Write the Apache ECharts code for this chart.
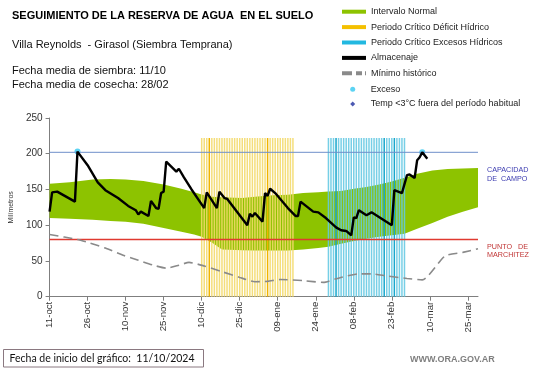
<!DOCTYPE html>
<html><head><meta charset="utf-8">
<script src="https://cdn.jsdelivr.net/npm/echarts@6/dist/echarts.min.js"></script>
<style>html,body{margin:0;padding:0;background:#fff}#c{width:541px;height:368px}</style>
</head><body><div id="c"></div>
<script>
// ---- data (x = days since 11-oct-2024) ----
const xTickLabels = ['11-oct','26-oct','10-nov','25-nov','10-dic','25-dic','09-ene','24-ene','08-feb','23-feb','10-mar','25-mar'];
const tickStep = 15;
const lastDay = 169;
const yTicks = [0, 50, 100, 150, 200, 250];

const bandDays = [0, 8, 17, 24, 30, 37, 45, 52, 57, 60, 64, 68, 76, 81, 88, 94, 100, 106, 110, 115, 120, 125, 130, 135, 140, 145, 151, 157, 163, 169];
const bandLow  = [110, 109, 107.5, 106, 105, 102, 96, 91, 87, 84, 76, 66, 65, 64.5, 64.5, 64.5, 66, 68, 70, 74, 78, 81, 84, 86, 88, 95, 103, 112, 119, 125];
const bandHigh = [158, 160, 164, 164.5, 164, 162, 157, 151, 146, 143, 140, 139, 138, 140, 142, 142.5, 145, 146, 147, 148, 151, 153.5, 157, 161, 166.5, 172, 176.5, 178.5, 179.5, 180];

const minDays = [0, 11, 16, 22, 29, 35, 41, 46, 51, 55, 61, 68, 75, 81, 86, 91, 100, 108, 113, 122, 127, 133, 141, 147, 156, 163, 169];
const minVals = [87, 80, 75, 68, 58, 51, 44, 40, 44, 48, 43, 35, 27, 21, 21.5, 24, 22.5, 20, 25, 32, 32, 29, 25.5, 23.5, 57, 62, 67];

const almDays = [0,1,3,10,11,15,19,22,27,31,34,35,36,39,40,42,43,44,45,46,48,50,51,53,56,61,62,66,67,69,70,78,79,80,81,84,85,86,87,89,94,97,98,99,104,106,109,113,115,117,119,120,121,122,125,127,135,136,139,141,142,144,145,146,147,149];
const almVals = [119,146,147,133,203,184,160,149,138,127,121,115,119,113,134,124,123,145,147,189,182,175,179,167,150,124,146,124,147,138,137,100,116,112,117,105,145,141,151,145,124,113,113,133,119,118,110,97,93,92,86,111,110,121,114,118,100,149,145,170,171,166,191,195,202,193];

const excesoDays = [11, 147];
const excesoVals = [203, 202];

const deficitDays = [60,61,62,63,64,65,66,67,68,69,70,71,72,73,74,75,76,77,78,79,80,81,82,83,84,85,86,87,88,89,90,91,92,93,94,95,96];
const deficitStrong = [63, 86];
const excesosDays = [110,111,112,113,114,115,116,117,118,119,120,121,122,123,124,125,126,127,128,129,130,131,132,133,134,135,136,137,138,139,140];
const excesosStrong = [113, 132, 136];
const stripeTop = 222;

const capacidadCampo = 202;
const puntoMarchitez = 80;

// ---- chart ----
const FONT = '"Liberation Sans", Arial, sans-serif';
const GREEN = '#8dc300';
const tickValues = xTickLabels.map((_, i) => i * tickStep);
const chart = echarts.init(document.getElementById('c'), null, {renderer: 'canvas'});

function txt(x, y, text, font, fill, align) {
  return {type: 'text', silent: true, style: {x: x, y: y, text: text, font: font, fill: fill || '#000', textAlign: align || 'left', textVerticalAlign: 'middle'}};
}

function renderBand(params, api) {
  if (params.dataIndex !== 0) return null;
  const pts = [];
  for (let i = 0; i < bandDays.length; i++) pts.push(api.coord([bandDays[i], bandHigh[i]]));
  for (let i = bandDays.length - 1; i >= 0; i--) pts.push(api.coord([bandDays[i], bandLow[i]]));
  return {type: 'polygon', shape: {points: pts}, style: {fill: GREEN, stroke: null}};
}

const legendText = {fontSize: 9, lineHeight: 10, color: '#222', fontFamily: FONT};

const option = {
  animation: false,
  grid: {left: 33, right: 63, top: 118, bottom: 71.3},
  xAxis: {
    type: 'value', min: 0, max: lastDay, interval: tickStep,
    splitLine: {show: false},
    axisLine: {lineStyle: {color: '#7f7f7f'}},
    axisTick: {show: true, length: 4, lineStyle: {color: '#7f7f7f'}, customValues: tickValues},
    axisLabel: {rotate: 90, margin: 5, fontSize: 9.7, color: '#333', fontFamily: FONT, customValues: tickValues,
      formatter: v => (v % tickStep === 0 && xTickLabels[v / tickStep]) ? xTickLabels[v / tickStep] : ''}
  },
  yAxis: {
    type: 'value', min: yTicks[0], max: yTicks[yTicks.length - 1], interval: 50,
    splitLine: {show: false},
    axisLine: {show: true, lineStyle: {color: '#7f7f7f'}},
    axisTick: {show: true, length: 4, lineStyle: {color: '#7f7f7f'}},
    axisLabel: {fontSize: 10, color: '#333', margin: 7, fontFamily: FONT},
    name: 'Milímetros', nameLocation: 'middle', nameGap: 25,
    nameTextStyle: {fontSize: 7, color: '#333', fontFamily: FONT}
  },
  legend: [
    {
      orient: 'vertical', left: 342, top: 6.7, padding: 0,
      itemWidth: 24, itemHeight: 4, itemGap: 5.4, symbolKeepAspect: false,
      textStyle: legendText,
      data: [
        {name: 'Intervalo Normal', icon: 'rect', itemStyle: {color: GREEN}},
        {name: 'Periodo Crítico Déficit Hídrico', icon: 'rect'},
        {name: 'Periodo Crítico Excesos Hídricos', icon: 'rect'},
        {name: 'Almacenaje', icon: 'path://M0,0H24V2.4H0Z', itemStyle: {color: '#000'}},
        {name: 'Mínimo histórico', icon: 'path://M0,0H10V1.6H0Z M14,0H20V1.6H14Z M23,0H24V1.6H23Z', itemStyle: {color: '#8a8a8a'}}
      ]
    },
    {
      orient: 'vertical', left: 350.2, top: 84.3, padding: 0,
      itemWidth: 5, itemHeight: 5, itemGap: 4.7,
      textStyle: Object.assign({}, legendText, {padding: [0, 0, 0, 10.5]}),
      data: [
        {name: 'Exceso', icon: 'circle'},
        {name: 'Temp <3°C fuera del período habitual', icon: 'diamond'}
      ]
    }
  ],
  series: [
    {name: 'Intervalo Normal', type: 'custom', silent: true, renderItem: renderBand,
     itemStyle: {color: GREEN}, encode: {x: 0, y: [1, 2]},
     data: bandDays.map((d, i) => [d, bandLow[i], bandHigh[i]])},
    {name: 'Periodo Crítico Déficit Hídrico', type: 'bar', barWidth: 1.5, barGap: '-100%', silent: true,
     itemStyle: {color: '#f4c000'},
     data: deficitDays.map(d => ({value: [d, stripeTop], itemStyle: {color: deficitStrong.includes(d) ? '#f0b400' : 'rgba(242,218,105,0.88)'}}))},
    {name: 'Periodo Crítico Excesos Hídricos', type: 'bar', barWidth: 1.5, barGap: '-100%', silent: true,
     itemStyle: {color: '#22b8e0'},
     data: excesosDays.map(d => ({value: [d, stripeTop], itemStyle: {color: excesosStrong.includes(d) ? '#18a6cc' : 'rgba(100,200,226,0.88)'}}))},
    {name: 'Capacidad de campo', type: 'line', symbol: 'none', silent: true,
     itemStyle: {color: '#6f8fca'}, lineStyle: {color: '#6f8fca', width: 1},
     data: [[0, capacidadCampo], [lastDay, capacidadCampo]]},
    {name: 'Punto de marchitez', type: 'line', symbol: 'none', silent: true,
     itemStyle: {color: '#e03a30'}, lineStyle: {color: '#e03a30', width: 1.5},
     data: [[0, puntoMarchitez], [lastDay, puntoMarchitez]]},
    {name: 'Mínimo histórico', type: 'line', symbol: 'none', smooth: 0.2,
     itemStyle: {color: '#8a8a8a'}, lineStyle: {color: '#8a8a8a', width: 1.6, type: [9, 5]},
     data: minDays.map((d, i) => [d, minVals[i]])},
    {name: 'Almacenaje', type: 'line', symbol: 'none',
     itemStyle: {color: '#000'}, lineStyle: {color: '#000', width: 2.4},
     data: almDays.map((d, i) => [d, almVals[i]])},
    {name: 'Exceso', type: 'scatter', symbolSize: 6, itemStyle: {color: '#33c8f0'},
     data: excesoDays.map((d, i) => [d, excesoVals[i]])},
    {name: 'Temp <3°C fuera del período habitual', type: 'scatter', symbol: 'diamond', symbolSize: 6,
     itemStyle: {color: '#1f2f9f'}, data: []}
  ],
  graphic: [
    txt(12, 16, 'SEGUIMIENTO DE LA RESERVA DE AGUA  EN EL SUELO', 'bold 11px ' + FONT, '#000'),
    txt(12, 44.5, 'Villa Reynolds  - Girasol (Siembra Temprana)', '11px ' + FONT, '#111'),
    txt(12, 71.3, 'Fecha media de siembra: 11/10', '11px ' + FONT, '#111'),
    txt(12, 84.5, 'Fecha media de cosecha: 28/02', '11px ' + FONT, '#111'),
    txt(487, 170.5, 'CAPACIDAD', '7.2px ' + FONT, '#3b3bb0'),
    txt(487, 179, 'DE  CAMPO', '7.2px ' + FONT, '#3b3bb0'),
    txt(487, 247.5, 'PUNTO   DE', '7.2px ' + FONT, '#c03535'),
    txt(487, 255.5, 'MARCHITEZ', '7.2px ' + FONT, '#c03535'),
    {type: 'rect', silent: true, shape: {x: 3.5, y: 349.5, width: 200, height: 17.5},
     style: {fill: '#fff', stroke: '#8a7880', lineWidth: 1}},
    txt(9.5, 358.5, 'Fecha de inicio del gráfico:  11/10/2024', '10.5px Lato, ' + FONT, '#111'),
    txt(410, 360, 'WWW.ORA.GOV.AR', 'bold 9px ' + FONT, '#7f7f7f')
  ]
};
chart.setOption(option);
</script></body></html>
